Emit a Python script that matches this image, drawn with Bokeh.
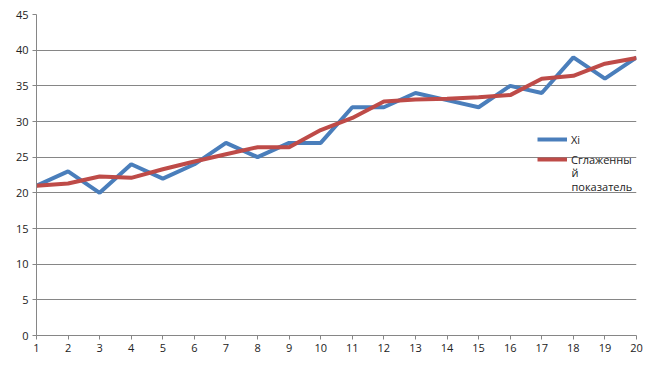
from bokeh.plotting import figure
from bokeh.models import Range1d, SingleIntervalTicker, Legend, Label, ColumnDataSource
from bokeh.embed import file_html
from bokeh.resources import INLINE

x = list(range(1, 21))
xi = [21, 23, 20, 24, 22, 24, 27, 25, 27, 27, 32, 32, 34, 33, 32, 35, 34, 39, 36, 39]
smoothed = [21, 21.3, 22.3, 22.1, 23.3, 24.4, 25.4, 26.4, 26.4, 28.8, 30.5, 32.8, 33.1, 33.2, 33.4, 33.7, 36.0, 36.4, 38.1, 38.9]
label_xi = "Xi"
label_sm_lines = ["Сглаженны", "й", "показатель"]

FONT = "Open Sans"
GREY = "#868686"

p = figure(width=656, height=365, output_backend="svg", toolbar_location=None,
           x_range=Range1d(1, 20), y_range=Range1d(0, 45),
           min_border_left=36, min_border_right=20, min_border_top=14, min_border_bottom=30)
p.outline_line_color = None
p.background_fill_color = "white"

p.xaxis.ticker = SingleIntervalTicker(interval=1)
p.yaxis.ticker = SingleIntervalTicker(interval=5)
for ax in (p.xaxis[0], p.yaxis[0]):
    ax.axis_line_color = GREY
    ax.major_tick_line_color = GREY
    ax.minor_tick_line_color = None
    ax.major_tick_in = 0
    ax.major_tick_out = 4
    ax.major_label_text_font = FONT
    ax.major_label_text_font_size = "11px"
    ax.major_label_text_color = "#222222"
p.xaxis.major_label_standoff = 4
p.yaxis.major_label_standoff = 4
p.xgrid.grid_line_color = None
p.ygrid.grid_line_color = GREY
p.ygrid.grid_line_width = 1

src = ColumnDataSource(dict(x=x, xi=xi, sm=smoothed))
r1 = p.line("x", "xi", source=src, line_color="#4a7ebb", line_width=4)
r2 = p.line("x", "sm", source=src, line_color="#be4b48", line_width=4)

legend = Legend(items=[(label_xi, [r1]), (label_sm_lines[0], [r2])],
                location=(501, 166), glyph_width=30, glyph_height=20, spacing=0,
                padding=0, margin=0, label_standoff=4, border_line_color=None,
                background_fill_alpha=0, label_text_font=FONT, label_text_font_size="11px",
                label_text_color="#222222", label_height=20)
p.add_layout(legend, "center")

for txt, yy in zip(label_sm_lines[1:], [163, 149]):
    p.add_layout(Label(x=535, y=yy, x_units="screen", y_units="screen", text=txt,
                       text_font=FONT, text_font_size="11px", text_color="#222222",
                       text_baseline="middle"))

open("out.html", "w").write(file_html(p, INLINE))
